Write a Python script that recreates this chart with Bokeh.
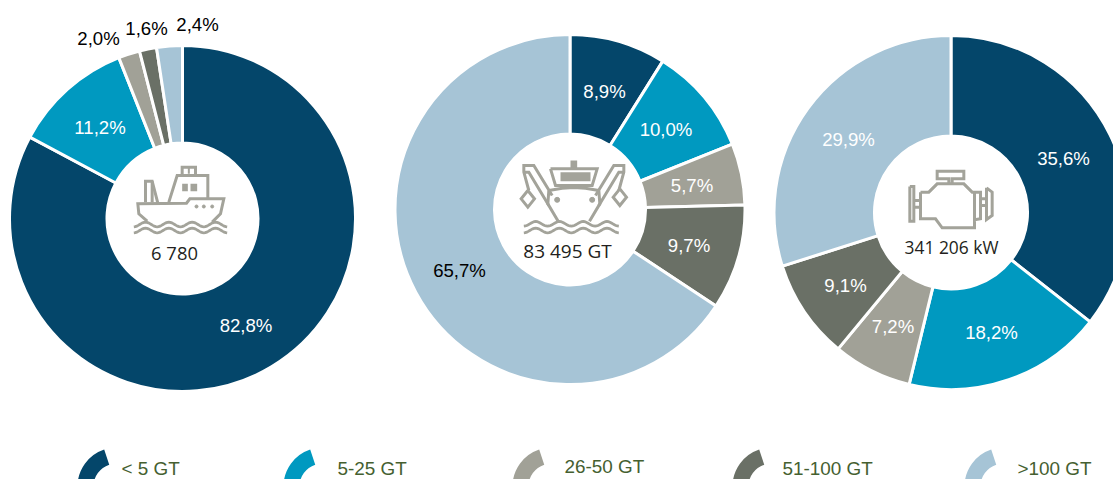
import math
from bokeh.plotting import figure
from bokeh.models import ColumnDataSource
from bokeh.core.properties import value
from bokeh.embed import file_html
from bokeh.resources import INLINE

W, H = 1113, 479
categories = ["< 5 GT", "5-25 GT", "26-50 GT", "51-100 GT", ">100 GT"]
colors = ["#04466A", "#0099C0", "#A1A197", "#6A7066", "#A6C4D6"]
vessels = [82.8, 11.2, 2.0, 1.6, 2.4]
tonnage = [8.9, 10.0, 5.7, 9.7, 65.7]
power = [35.6, 18.2, 7.2, 9.1, 29.9]
totals = ["6 780", "83 495 GT", "341 206 kW"]
total_sizes = ["18.4px", "19px", "17.4px"]

GREY = "#A3A39A"
Y = lambda y: H - y

p = figure(width=W, height=H, x_range=(0, W), y_range=(0, H),
           x_axis_type=None, y_axis_type=None, toolbar_location=None,
           output_backend="svg", min_border=0, outline_line_color=None,
           background_fill_color="white", border_fill_color="white")
p.grid.visible = False


def donut(vals, cx, cy, R, r, label_pos):
    cum = 0.0
    starts, ends = [], []
    for v in vals:
        starts.append(math.pi / 2 - (cum + v) * 2 * math.pi / 100)
        cum += v
        ends.append(math.pi / 2 - (cum - v) * 2 * math.pi / 100)
    src = ColumnDataSource(dict(start=starts, end=ends, color=colors))
    p.annular_wedge(x=cx, y=Y(cy), inner_radius=r, outer_radius=R,
                    start_angle="start", end_angle="end", fill_color="color",
                    line_color="white", line_width=3, source=src,
                    inner_radius_units="screen", outer_radius_units="screen")
    for v, (lx, ly, col) in zip(vals, label_pos):
        p.text([lx], [Y(ly)], text=[f"{v:.1f}%".replace(".", ",")], text_color=col,
               text_font=value("Liberation Sans"), text_font_size="18.6px",
               text_align="center", text_baseline="middle")


donut(vessels, 182, 218, 173, 75.5,
      [(245.5, 324.5, "white"), (99.5, 127, "white"), (98, 38, "black"),
       (146, 28, "black"), (197, 23.5, "black")])
donut(tonnage, 569.5, 209, 175, 75.5,
      [(604, 90.5, "white"), (665.5, 129, "white"), (691.5, 185, "white"),
       (688.5, 245, "white"), (459, 269.5, "black")])
donut(power, 950.5, 212, 177, 76.5,
      [(1063, 158, "white"), (991, 332, "white"), (892.5, 326, "white"),
       (845, 285, "white"), (848, 139, "white")])

for t, x, y, s in zip(totals, [174, 567, 951], [252, 250, 246], total_sizes):
    p.text([x], [Y(y)], text=[t], text_color="#231F20",
           text_font=value("Open Sans"), text_font_size=s,
           text_align="center", text_baseline="middle")

# legend
legend_x = [116, 322, 551, 771, 1003]
legend_tx = [121, 337, 564, 782, 1017]
legend_ty = [468.3, 468.3, 466.3, 468.3, 468.3]
for c, col, lx, tx, ty in zip(categories, colors, legend_x, legend_tx, legend_ty):
    p.annular_wedge(x=lx, y=Y(486), inner_radius=23, outer_radius=39,
                    start_angle=math.radians(108.4), end_angle=math.pi,
                    fill_color=col, line_color=None,
                    inner_radius_units="screen", outer_radius_units="screen")
    p.text([tx], [Y(ty)], text=[c], text_color="#456030",
           text_font=value("Liberation Sans"), text_font_size="18.9px",
           text_align="left", text_baseline="middle")


# icons: outlines given in zoomed pixel space (3x) relative to an origin
def poly(ox, oy, pts, w=3):
    p.line([ox + a / 3 for a, b in pts], [Y(oy + b / 3) for a, b in pts],
           line_color=GREY, line_width=w, line_join="miter")


def box(ox, oy, x0, y0, x1, y1):
    p.quad(left=ox + x0 / 3, right=ox + x1 / 3, top=Y(oy + y0 / 3), bottom=Y(oy + y1 / 3),
           fill_color=GREY, line_color=None)


def wave(ox, oy, x0, x1, y, amp, n):
    pts = []
    steps = n * 16
    for i in range(steps + 1):
        t = i / steps
        pts.append((x0 + (x1 - x0) * t, y + amp * math.cos(2 * math.pi * n * t)))
    poly(ox, oy, pts, 2.8)


# ship
O = (100, 150)
poly(*O, [(140, 212), (115, 190), (112, 160), (258, 158), (268, 145), (370, 145), (360, 190), (335, 215)])
poly(*O, [(135, 155), (135, 92), (155, 92), (172, 158)])
poly(*O, [(155, 92), (155, 155)])
poly(*O, [(205, 155), (230, 75), (322, 75), (322, 145)])
poly(*O, [(245, 75), (245, 50), (285, 50), (285, 75)])
poly(*O, [(265, 50), (265, 70)], 2)
box(*O, 245, 100, 262, 122)
box(*O, 270, 100, 290, 122)
p.scatter([O[0] + a / 3 for a in (288, 310, 335)], [Y(O[1] + 168 / 3)] * 3, size=3, color=GREY)
wave(*O, 100, 380, 222, 7, 4)
wave(*O, 100, 380, 240, 7, 4)

# trawler
O = (490, 140)
box(*O, 240, 60, 260, 85)
poly(*O, [(180, 85), (320, 85), (305, 135), (195, 135), (180, 85)])
box(*O, 210, 95, 300, 122)
poly(*O, [(175, 150), (215, 143), (250, 141), (285, 143), (325, 150)])
poly(*O, [(175, 150), (172, 190), (203, 242)])
poly(*O, [(325, 150), (328, 190), (297, 242)])
poly(*O, [(115, 150), (100, 95), (100, 75), (130, 75), (185, 165)])
poly(*O, [(100, 95), (115, 95), (175, 195)])
poly(*O, [(385, 150), (400, 95), (400, 75), (370, 75), (315, 165)])
poly(*O, [(400, 95), (385, 95), (325, 195)])
poly(*O, [(112, 150), (132, 175), (112, 200), (92, 175), (112, 150)])
poly(*O, [(388, 145), (408, 170), (388, 195), (368, 170), (388, 145)])
p.scatter([O[0] + 200 / 3, O[0] + 305 / 3], [Y(O[1] + 178 / 3)] * 2, size=5, color=GREY)
wave(*O, 100, 385, 250, 7, 4)
wave(*O, 100, 385, 270, 7, 4)

# engine
O = (880, 150)
poly(*O, [(120, 125), (145, 125), (170, 100), (250, 100), (275, 125), (300, 125), (300, 205), (282, 208), (282, 232), (185, 232), (165, 205), (120, 205), (120, 125)])
poly(*O, [(282, 125), (282, 208)])
poly(*O, [(88, 108), (100, 108), (100, 212), (88, 212), (88, 108)])
poly(*O, [(100, 150), (120, 150)])
poly(*O, [(100, 170), (120, 170)])
poly(*O, [(318, 112), (335, 125), (335, 195), (318, 207), (318, 112)])
poly(*O, [(300, 145), (318, 145)])
poly(*O, [(300, 165), (318, 165)])
poly(*O, [(205, 100), (205, 85), (170, 85), (170, 62), (250, 62), (250, 85), (215, 85), (215, 100)])

open("out.html", "w").write(file_html(p, INLINE))
